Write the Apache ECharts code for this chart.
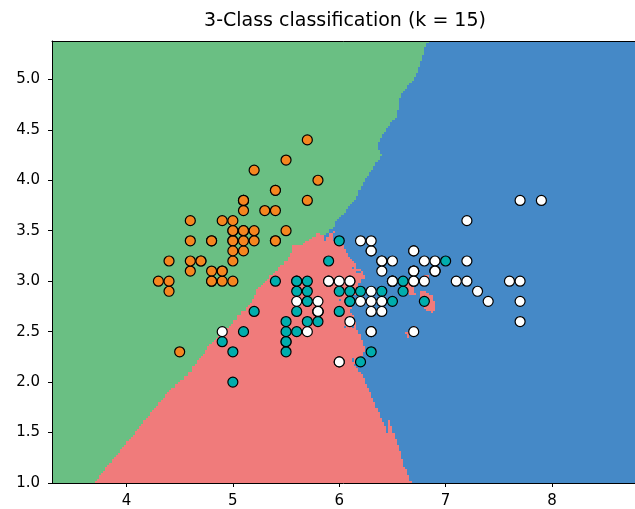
<!DOCTYPE html>
<html>
<head>
<meta charset="utf-8">
<script src="https://cdn.jsdelivr.net/npm/echarts@6/dist/echarts.min.js"></script>
<style>html,body{margin:0;padding:0;background:#fff;}#chart{width:635px;height:509px;}</style>
</head>
<body>
<div id="chart"></div>
<script>
// Iris data: sepal length, sepal width (first two features)
const setosa = [
[5.1,3.5],[4.9,3.0],[4.7,3.2],[4.6,3.1],[5.0,3.6],[5.4,3.9],[4.6,3.4],[5.0,3.4],[4.4,2.9],[4.9,3.1],
[5.4,3.7],[4.8,3.4],[4.8,3.0],[4.3,3.0],[5.8,4.0],[5.7,4.4],[5.4,3.9],[5.1,3.5],[5.7,3.8],[5.1,3.8],
[5.4,3.4],[5.1,3.7],[4.6,3.6],[5.1,3.3],[4.8,3.4],[5.0,3.0],[5.0,3.4],[5.2,3.5],[5.2,3.4],[4.7,3.2],
[4.8,3.1],[5.4,3.4],[5.2,4.1],[5.5,4.2],[4.9,3.1],[5.0,3.2],[5.5,3.5],[4.9,3.6],[4.4,3.0],[5.1,3.4],
[5.0,3.5],[4.5,2.3],[4.4,3.2],[5.0,3.5],[5.1,3.8],[4.8,3.0],[5.1,3.8],[4.6,3.2],[5.3,3.7],[5.0,3.3]
];
const versicolor = [
[7.0,3.2],[6.4,3.2],[6.9,3.1],[5.5,2.3],[6.5,2.8],[5.7,2.8],[6.3,3.3],[4.9,2.4],[6.6,2.9],[5.2,2.7],
[5.0,2.0],[5.9,3.0],[6.0,2.2],[6.1,2.9],[5.6,2.9],[6.7,3.1],[5.6,3.0],[5.8,2.7],[6.2,2.2],[5.6,2.5],
[5.9,3.2],[6.1,2.8],[6.3,2.5],[6.1,2.8],[6.4,2.9],[6.6,3.0],[6.8,2.8],[6.7,3.0],[6.0,2.9],[5.7,2.6],
[5.5,2.4],[5.5,2.4],[5.8,2.7],[6.0,2.7],[5.4,3.0],[6.0,3.4],[6.7,3.1],[6.3,2.3],[5.6,3.0],[5.5,2.5],
[5.5,2.6],[6.1,3.0],[5.8,2.6],[5.0,2.3],[5.6,2.7],[5.7,3.0],[5.7,2.9],[6.2,2.9],[5.1,2.5],[5.7,2.8]
];
const virginica = [
[6.3,3.3],[5.8,2.7],[7.1,3.0],[6.3,2.9],[6.5,3.0],[7.6,3.0],[4.9,2.5],[7.3,2.9],[6.7,2.5],[7.2,3.6],
[6.5,3.2],[6.4,2.7],[6.8,3.0],[5.7,2.5],[5.8,2.8],[6.4,3.2],[6.5,3.0],[7.7,3.8],[7.7,2.6],[6.0,2.2],
[6.9,3.2],[5.6,2.8],[7.7,2.8],[6.3,2.7],[6.7,3.3],[7.2,3.2],[6.2,2.8],[6.1,3.0],[6.4,2.8],[7.2,3.0],
[7.4,2.8],[7.9,3.8],[6.4,2.8],[6.3,2.8],[6.1,2.6],[7.7,3.0],[6.3,3.4],[6.4,3.1],[6.0,3.0],[6.9,3.1],
[6.7,3.1],[6.9,3.1],[5.8,2.7],[6.8,3.2],[6.7,3.3],[6.7,3.0],[6.3,2.5],[6.5,3.0],[6.2,3.4],[5.9,3.0]
];
const xTicks = [4, 5, 6, 7, 8];
const yTicks = [1.0, 1.5, 2.0, 2.5, 3.0, 3.5, 4.0, 4.5, 5.0];
const K = 15;
const STEP = 0.02;
const X_MIN = 3.3, X_MAX = 8.88, Y_MIN = 1.0, Y_MAX = 5.38;
const X_VIEW_MAX = 8.78; // the reference is cropped at the right edge

const regionColors = ['#6abf83', '#f07b7b', '#4589c7'];
const pointColors = ['#f5861f', '#00adad', '#ffffff'];

// training set
const train = [];
[setosa, versicolor, virginica].forEach((arr, c) => arr.forEach(p => train.push([p[0], p[1], c])));

function predict(x, y) {
  const bd = [], bc = [];
  for (let i = 0; i < train.length; i++) {
    const dx = train[i][0] - x, dy = train[i][1] - y;
    const d = dx * dx + dy * dy;
    if (bd.length < K || d <= bd[bd.length - 1]) {
      let j = bd.length;
      if (j < K) { bd.push(d); bc.push(train[i][2]); } else { j = K - 1; bd[j] = d; bc[j] = train[i][2]; }
      while (j > 0 && bd[j - 1] >= bd[j]) {
        let t = bd[j]; bd[j] = bd[j - 1]; bd[j - 1] = t;
        t = bc[j]; bc[j] = bc[j - 1]; bc[j - 1] = t;
        j--;
      }
    }
  }
  const votes = [0, 0, 0];
  bc.forEach(c => votes[c]++);
  let best = 0;
  for (let c = 1; c < 3; c++) if (votes[c] > votes[best]) best = c;
  return best;
}

// mesh prediction, merged into horizontal runs
const nx = Math.round((X_MAX - X_MIN) / STEP);
const ny = Math.round((Y_MAX - Y_MIN) / STEP);
const runs = [];
for (let j = 0; j < ny; j++) {
  const y = Y_MIN + j * STEP;
  let start = 0, cur = predict(X_MIN, y);
  for (let i = 1; i <= nx; i++) {
    const c = i < nx ? predict(X_MIN + i * STEP, y) : -1;
    if (c !== cur) {
      runs.push([X_MIN + start * STEP, X_MIN + i * STEP, y, cur]);
      start = i; cur = c;
    }
  }
}

const chart = echarts.init(document.getElementById('chart'), null, { renderer: 'canvas' });
const axisFont = { fontFamily: 'DejaVu Sans', fontSize: 15, color: '#000' };
chart.setOption({
  animation: false,
  title: {
    text: '3-Class classification (k = 15)',
    left: 340, top: 7, textAlign: 'center',
    textStyle: { fontFamily: 'DejaVu Sans', fontSize: 19, fontWeight: 'normal', color: '#000' }
  },
  grid: { left: 52, top: 41, right: 0, bottom: 26, containLabel: false },
  xAxis: [{
    type: 'value', min: X_MIN, max: X_VIEW_MAX, z: 10,
    axisLine: { show: true, onZero: false, lineStyle: { color: '#000', width: 1 } },
    axisTick: { show: true, length: 4, lineStyle: { color: '#000' }, customValues: xTicks },
    axisLabel: Object.assign({ margin: 11, customValues: xTicks, formatter: v => String(v) }, axisFont),
    splitLine: { show: false }
  }, {
    type: 'value', position: 'top', min: X_MIN, max: X_VIEW_MAX, z: 10,
    axisLine: { show: true, onZero: false, lineStyle: { color: '#000', width: 1 } },
    axisTick: { show: false }, axisLabel: { show: false }, splitLine: { show: false }
  }],
  yAxis: {
    type: 'value', min: Y_MIN, max: Y_MAX, z: 10,
    axisLine: { show: true, onZero: false, lineStyle: { color: '#000', width: 1 } },
    axisTick: { show: true, length: 4, lineStyle: { color: '#000' }, customValues: yTicks },
    axisLabel: Object.assign({ margin: 12, customValues: yTicks, formatter: v => v.toFixed(1) }, axisFont),
    splitLine: { show: false }
  },
  series: [{
    type: 'custom',
    clip: true,
    z: 1,
    data: runs,
    encode: { x: [0, 1], y: 2 },
    renderItem: function (params, api) {
      const a = api.coord([api.value(0), api.value(2) + STEP]);
      const b = api.coord([api.value(1), api.value(2)]);
      const l = Math.round(a[0]), r = Math.round(b[0]);
      const t = Math.round(a[1]), bt = Math.round(b[1]);
      return {
        type: 'rect',
        shape: { x: l, y: t, width: r - l, height: bt - t },
        style: { fill: regionColors[api.value(3)] }
      };
    }
  }].concat([setosa, versicolor, virginica].map((arr, c) => ({
    type: 'scatter',
    data: arr,
    symbolSize: 10,
    z: 3,
    itemStyle: { color: pointColors[c], borderColor: '#000', borderWidth: 1.2, opacity: 1 },
    emphasis: { disabled: true }
  })))
});
</script>
</body>
</html>
